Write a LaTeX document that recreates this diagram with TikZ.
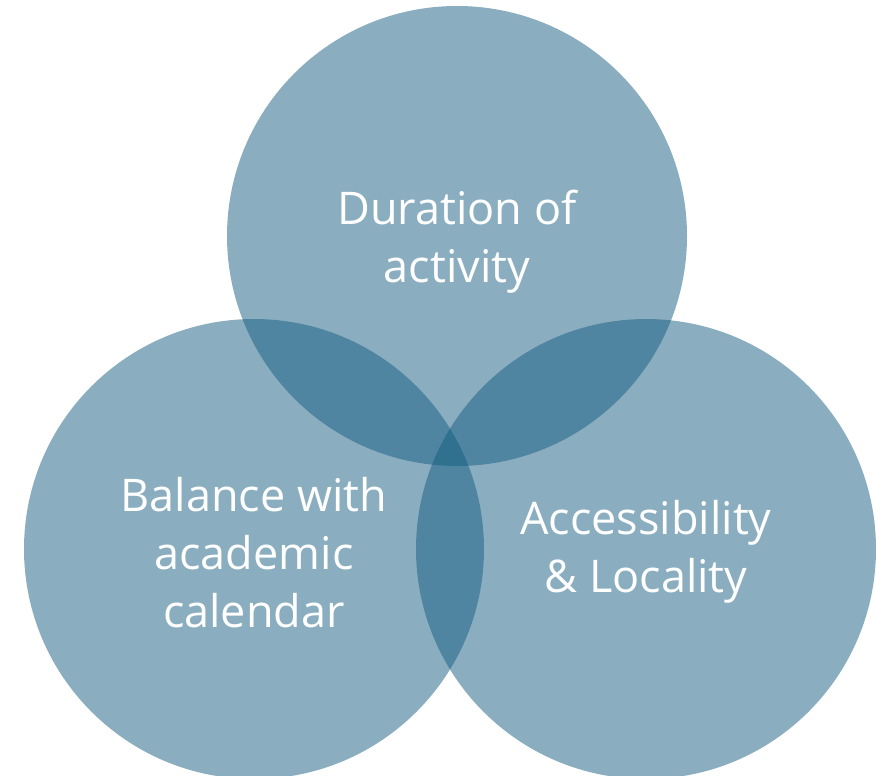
\documentclass[tikz,border=0pt]{standalone}
\usepackage{fontspec}
\setmainfont{Open Sans}
\definecolor{venn}{RGB}{21,93,129}
\begin{document}
\begin{tikzpicture}[x=1pt,y=-1pt,
  vcircle/.style={circle,minimum size=460pt,inner sep=0pt,fill=venn,fill opacity=0.5,draw=none},
  vlabel/.style={text=white,align=center,font=\fontsize{45}{58}\selectfont,inner sep=0pt}]
\clip (0,0) rectangle (876,776);
\useasboundingbox (0,0) rectangle (876,776);
\node[vcircle] (ctop) at (457,236) {};
\node[vcircle] (cleft) at (254,549) {};
\node[vcircle] (cright) at (646,549) {};
\node[vlabel] (ltop) at (457,242) {Duration of\\activity};
\node[vlabel] (lleft) at (254,553) {Balance with\\academic\\calendar};
\node[vlabel] (lright) at (646,552) {Accessibility\\\& Locality};
\end{tikzpicture}
\end{document}
